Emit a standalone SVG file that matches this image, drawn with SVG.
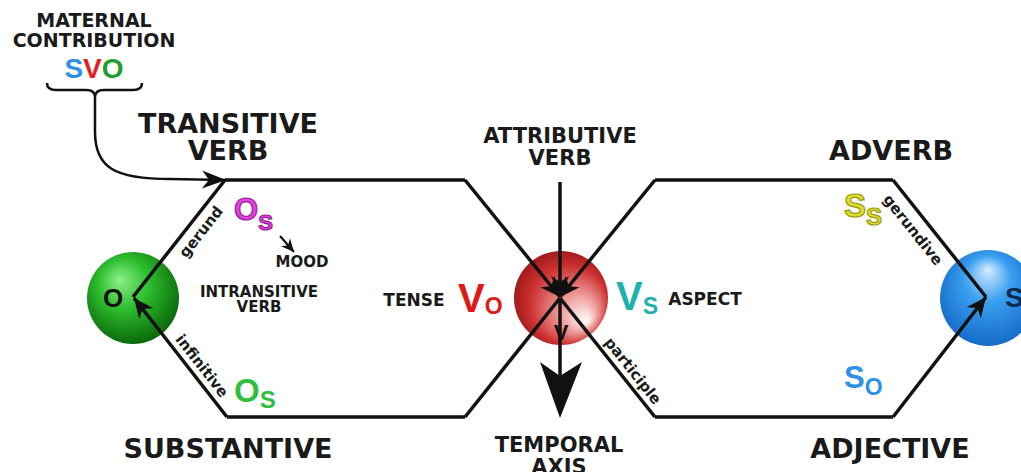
<svg xmlns="http://www.w3.org/2000/svg" width="1021" height="472" viewBox="0 0 1021 472">
<defs>
<style>
.t{font-family:"DejaVu Sans","Liberation Sans",sans-serif;font-weight:bold;fill:#1a1a1a;text-anchor:middle}
.big{font-size:27px}
.mid{font-size:21px}
.sm{font-size:15px}
.tag{font-family:"DejaVu Sans","Liberation Sans",sans-serif;font-weight:bold;font-size:15px;fill:#1a1a1a;text-anchor:middle}
.sym{font-family:"Liberation Sans",Arial,sans-serif;font-weight:bold}
.ln{fill:none;stroke:#111;stroke-width:3.5;stroke-linejoin:miter;stroke-linecap:butt}
</style>
<marker id="ah" markerUnits="userSpaceOnUse" viewBox="-26 -10 28 20" refX="0" refY="0" markerWidth="28" markerHeight="20" orient="auto">
<path d="M0,0 L-24,-9 L-17,0 L-24,9 Z" fill="#111"/>
</marker>
<marker id="ahs" markerUnits="userSpaceOnUse" viewBox="-22 -10 24 20" refX="0" refY="0" markerWidth="24" markerHeight="20" orient="auto">
<path d="M0,0 L-20,-9 L-14,0 L-20,9 Z" fill="#111"/>
</marker>
<marker id="aht" markerUnits="userSpaceOnUse" viewBox="-14 -7 15 14" refX="0" refY="0" markerWidth="15" markerHeight="14" orient="auto">
<path d="M0,0 L-13,-6 L-9,0 L-13,6 Z" fill="#111"/>
</marker>
<radialGradient id="gG" cx="45%" cy="40%" r="60%" fx="35%" fy="30%">
<stop offset="0" stop-color="#8df08a"/>
<stop offset="0.45" stop-color="#2fbf2f"/>
<stop offset="1" stop-color="#0a6a0a"/>
</radialGradient>
<radialGradient id="gR" cx="50%" cy="50%" r="60%" fx="78%" fy="75%">
<stop offset="0" stop-color="#ffffff"/>
<stop offset="0.3" stop-color="#f2a4a4"/>
<stop offset="0.7" stop-color="#cc3030"/>
<stop offset="1" stop-color="#8a0e0e"/>
</radialGradient>
<radialGradient id="gB" cx="50%" cy="45%" r="60%" fx="50%" fy="20%">
<stop offset="0" stop-color="#d6ecff"/>
<stop offset="0.4" stop-color="#3aa0f0"/>
<stop offset="1" stop-color="#1266c4"/>
</radialGradient>
</defs>
<rect width="1021" height="472" fill="#ffffff"/>

<g id="node-O">
<circle cx="133" cy="298" r="46" fill="url(#gG)"/>
<text class="sym" x="113" y="307" font-size="26" fill="#111" text-anchor="middle">O</text>
</g>
<g id="node-V">
<circle cx="561" cy="298" r="47" fill="url(#gR)"/>
<text class="sym" x="561" y="340" font-size="22" fill="#111" text-anchor="middle">V</text>
</g>
<g id="node-S">
<circle cx="988" cy="298" r="48" fill="url(#gB)"/>
<text class="sym" x="1005" y="307" font-size="28" fill="#0d2a50">S</text>
</g>

<g id="connectors">
<path class="ln" d="M225,180 L465,180"/>
<path class="ln" d="M227,417 L465,417"/>
<path class="ln" d="M133,297 L225,180"/>
<path class="ln" d="M560,298 L465,417"/>
<path class="ln" d="M655,180 L893,180"/>
<path class="ln" d="M655,417 L893,417"/>
<path class="ln" d="M893,180 L986,297"/>
<path class="ln" d="M560,298 L655,417"/>
<path class="ln" d="M227,417 L134,298" marker-end="url(#ahs)"/>
<path class="ln" d="M893,417 L986,297" marker-end="url(#ahs)"/>
<path class="ln" d="M465,180 L560,297" marker-end="url(#ahs)"/>
<path class="ln" d="M655,180 L560,297" marker-end="url(#ahs)"/>
<path class="ln" d="M560,182 L560,296" marker-end="url(#ahs)"/>
<path class="ln" d="M560,298 L560,380"/>
<path d="M540,362 L560,376 L582,362 L560,418 Z" fill="#111"/>
<path fill="none" stroke="#111" stroke-width="2.5" d="M95,97 L95,132 C95,168 115,179 170,179 L226,180" marker-end="url(#ah)"/>
<path fill="none" stroke="#111" stroke-width="2" d="M280,236 L294,252" marker-end="url(#aht)"/>
<path fill="none" stroke="#111" stroke-width="2.5" d="M47,83 Q47,90 56,90 L86,90 Q95,90 95,97 Q95,90 104,90 L133,90 Q142,90 142,83"/>
</g>

<g id="labels">
<text class="t" font-size="19" x="94" y="27">MATERNAL</text>
<text class="t" font-size="19" x="94" y="47">CONTRIBUTION</text>
<text class="sym" x="94" y="78" font-size="28" text-anchor="middle"><tspan fill="#2f8fe6">S</tspan><tspan fill="#e32020">V</tspan><tspan fill="#1f9e2f">O</tspan></text>

<text class="t big" x="228" y="133">TRANSITIVE</text>
<text class="t big" x="228" y="160">VERB</text>
<text class="t mid" x="560" y="143">ATTRIBUTIVE</text>
<text class="t mid" x="560" y="165">VERB</text>
<text class="t big" x="891" y="160">ADVERB</text>
<text class="t big" x="228" y="458">SUBSTANTIVE</text>
<text class="t mid" x="559" y="452">TEMPORAL</text>
<text class="t mid" x="559" y="474">AXIS</text>
<text class="t big" x="890" y="458">ADJECTIVE</text>

<text class="t sm" x="302" y="267">MOOD</text>
<text class="t sm" x="259" y="297">INTRANSITIVE</text>
<text class="t sm" x="259" y="312">VERB</text>
<text class="t" font-size="17" x="414" y="306">TENSE</text>
<text class="t" font-size="17" x="705" y="305">ASPECT</text>

<text class="sym" x="458" y="312" font-size="40" fill="#e01818">V<tspan font-size="23" dy="2">O</tspan></text>
<text class="sym" x="616" y="310" font-size="40" fill="#1fb0b0">V<tspan font-size="23" dy="4">S</tspan></text>
<text class="sym" x="234" y="220" font-size="31" fill="#e040e0" stroke="#9a1a9a" stroke-width="1.2">O<tspan font-size="22" dy="10">S</tspan></text>
<text class="sym" x="234" y="402" font-size="33" fill="#2fbf3f">O<tspan font-size="24" dy="6">S</tspan></text>
<text class="sym" x="844" y="217" font-size="33" fill="#dede30" stroke="#9a9a10" stroke-width="1.2">S<tspan font-size="24" dy="8">S</tspan></text>
<text class="sym" x="844" y="388" font-size="31" fill="#2f90e6">S<tspan font-size="23" dy="7">O</tspan></text>

<text class="tag" transform="translate(205,235) rotate(-51.8)">gerund</text>
<text class="tag" transform="translate(198,369) rotate(51.9)">infinitive</text>
<text class="tag" transform="translate(629,374) rotate(51.4)">participle</text>
<text class="tag" transform="translate(909,233) rotate(51.5)">gerundive</text>
</g>
</svg>
